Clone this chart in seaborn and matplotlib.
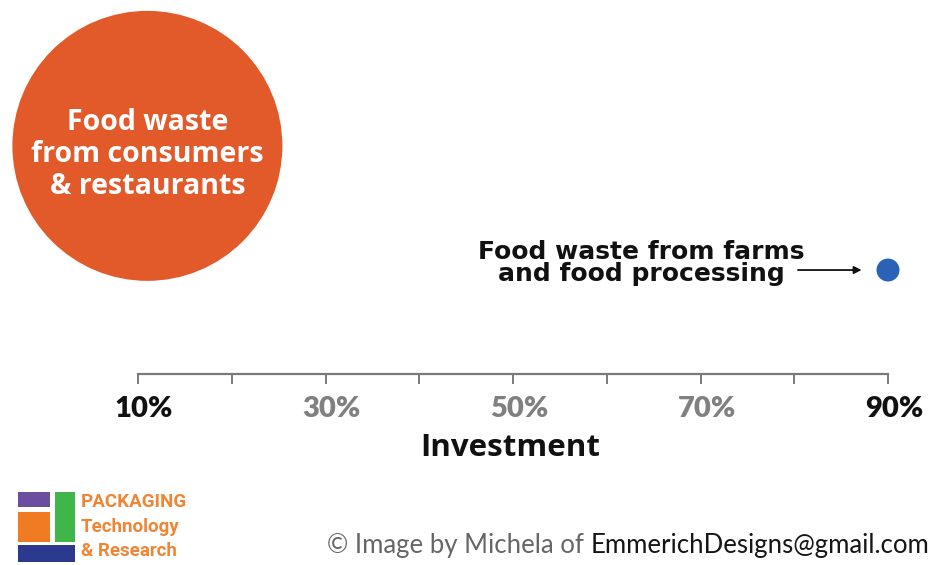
import matplotlib
matplotlib.use("Agg")
import matplotlib.pyplot as plt
import matplotlib.transforms as mtransforms
from matplotlib.patches import Rectangle
import seaborn as sns
import pandas as pd

# ---- data ----
sources = ["Food waste\nfrom consumers\n& restaurants", "Food waste from farms\nand food processing"]
investment = [11, 90]          # % of investment
impact = [61, 27.8]            # vertical placement (unlabelled axis)
waste_amount = [138, 1]        # relative amount of waste (bubble area)
tick_values = [10, 20, 30, 40, 50, 60, 70, 80, 90]
tick_labels = ["10%", "", "30%", "", "50%", "", "70%", "", "90%"]
x_label = "Investment"
colors = ["#e2592a", "#2a62b8"]

df = pd.DataFrame({"source": sources, "investment": investment,
                   "impact": impact, "waste": waste_amount})

sns.set_theme(style="white")
plt.rcParams["font.family"] = ["DejaVu Sans"]

W, H = 930, 565
fig = plt.figure(figsize=(W / 100, H / 100), dpi=100)
fig.patch.set_facecolor("white")


def fx(x):
    return x / W


def fy(y):
    return 1 - y / H


ax_left, ax_right, ax_bottom_px = 138, 888, 374
ax = fig.add_axes([fx(ax_left), fy(ax_bottom_px), (ax_right - ax_left) / W, ax_bottom_px / H])
ax.set_facecolor("none")

sns.scatterplot(data=df, x="investment", y="impact", hue="source", palette=colors,
                size="waste", sizes=(274, 37791), legend=False, linewidth=0,
                clip_on=False, ax=ax, zorder=3)

ax.set_xlim(10, 90)
ax.set_ylim(0, 100)
ax.set_yticks([])
ax.set_ylabel("")
for s in ["left", "top", "right"]:
    ax.spines[s].set_visible(False)
ax.spines["bottom"].set_color("#7a7a7a")
ax.spines["bottom"].set_linewidth(1.6)

ax.set_xticks(tick_values)
ax.set_xticklabels(tick_labels, fontfamily="Lato", fontweight="heavy", fontsize=21)
ax.tick_params(axis="x", direction="out", length=7.5, width=1.4, color="#7a7a7a",
               pad=8, bottom=True)
shift = mtransforms.ScaledTranslation(6 / 100, 0, fig.dpi_scale_trans)
for lbl, val in zip(ax.get_xticklabels(), tick_values):
    lbl.set_color("#111111" if val in (10, 90) else "#808080")
    lbl.set_transform(lbl.get_transform() + shift)

ax.set_xlabel(x_label, fontfamily="Open Sans", fontweight="bold", fontsize=22.5, color="#111111")
ax.xaxis.set_label_coords(0.496, -0.198)
ax.xaxis.label.set_va("center")

# bubble labels
ax.text(df.investment[0], df.impact[0] - 2.3, df.source[0], ha="center", va="center",
        color="white", fontsize=20.5, fontfamily="Open Sans", fontweight="bold",
        linespacing=1.12, zorder=4)

ax.annotate(df.source[1], xy=(df.investment[1], df.impact[1]), xytext=(-247, 7),
            textcoords="offset pixels", ha="center", va="center", fontsize=18,
            fontweight="bold", color="#111111", linespacing=0.92, annotation_clip=False)
ax.annotate("", xy=(df.investment[1], df.impact[1]), xytext=(-90, 0),
            textcoords="offset pixels",
            arrowprops=dict(arrowstyle="-|>", color="#111111", lw=1.3,
                            mutation_scale=11, shrinkA=0, shrinkB=19),
            annotation_clip=False)

# logo
logo = [((18, 492), 32, 15, "#6b4ea0"),
        ((55, 492), 20, 50, "#3fb54a"),
        ((18, 512), 32, 30, "#f07b22"),
        ((18, 545), 57, 17, "#2b3a8f")]
for (x0, y0), w, h, c in logo:
    fig.add_artist(Rectangle((fx(x0), fy(y0 + h)), w / W, h / H,
                             transform=fig.transFigure, color=c, lw=0))
for txt, yy in [("PACKAGING", 502), ("Technology", 527), ("& Research", 551)]:
    fig.text(fx(81), fy(yy), txt, ha="left", va="center", fontsize=13.5,
             fontfamily="Roboto", fontweight="bold", color="#ef8536")

# credit
t_black = fig.text(fx(929), fy(545), "EmmerichDesigns@gmail.com", ha="right", va="center",
                   fontsize=18.5, fontfamily="Lato", color="#151515")
ax.annotate("© Image by Michela of ", xy=(0, 0), xycoords=t_black, ha="right",
            va="bottom", fontsize=18.5, fontfamily="Lato", color="#666666",
            annotation_clip=False)

fig.savefig("out.png", dpi=100, facecolor="white")
